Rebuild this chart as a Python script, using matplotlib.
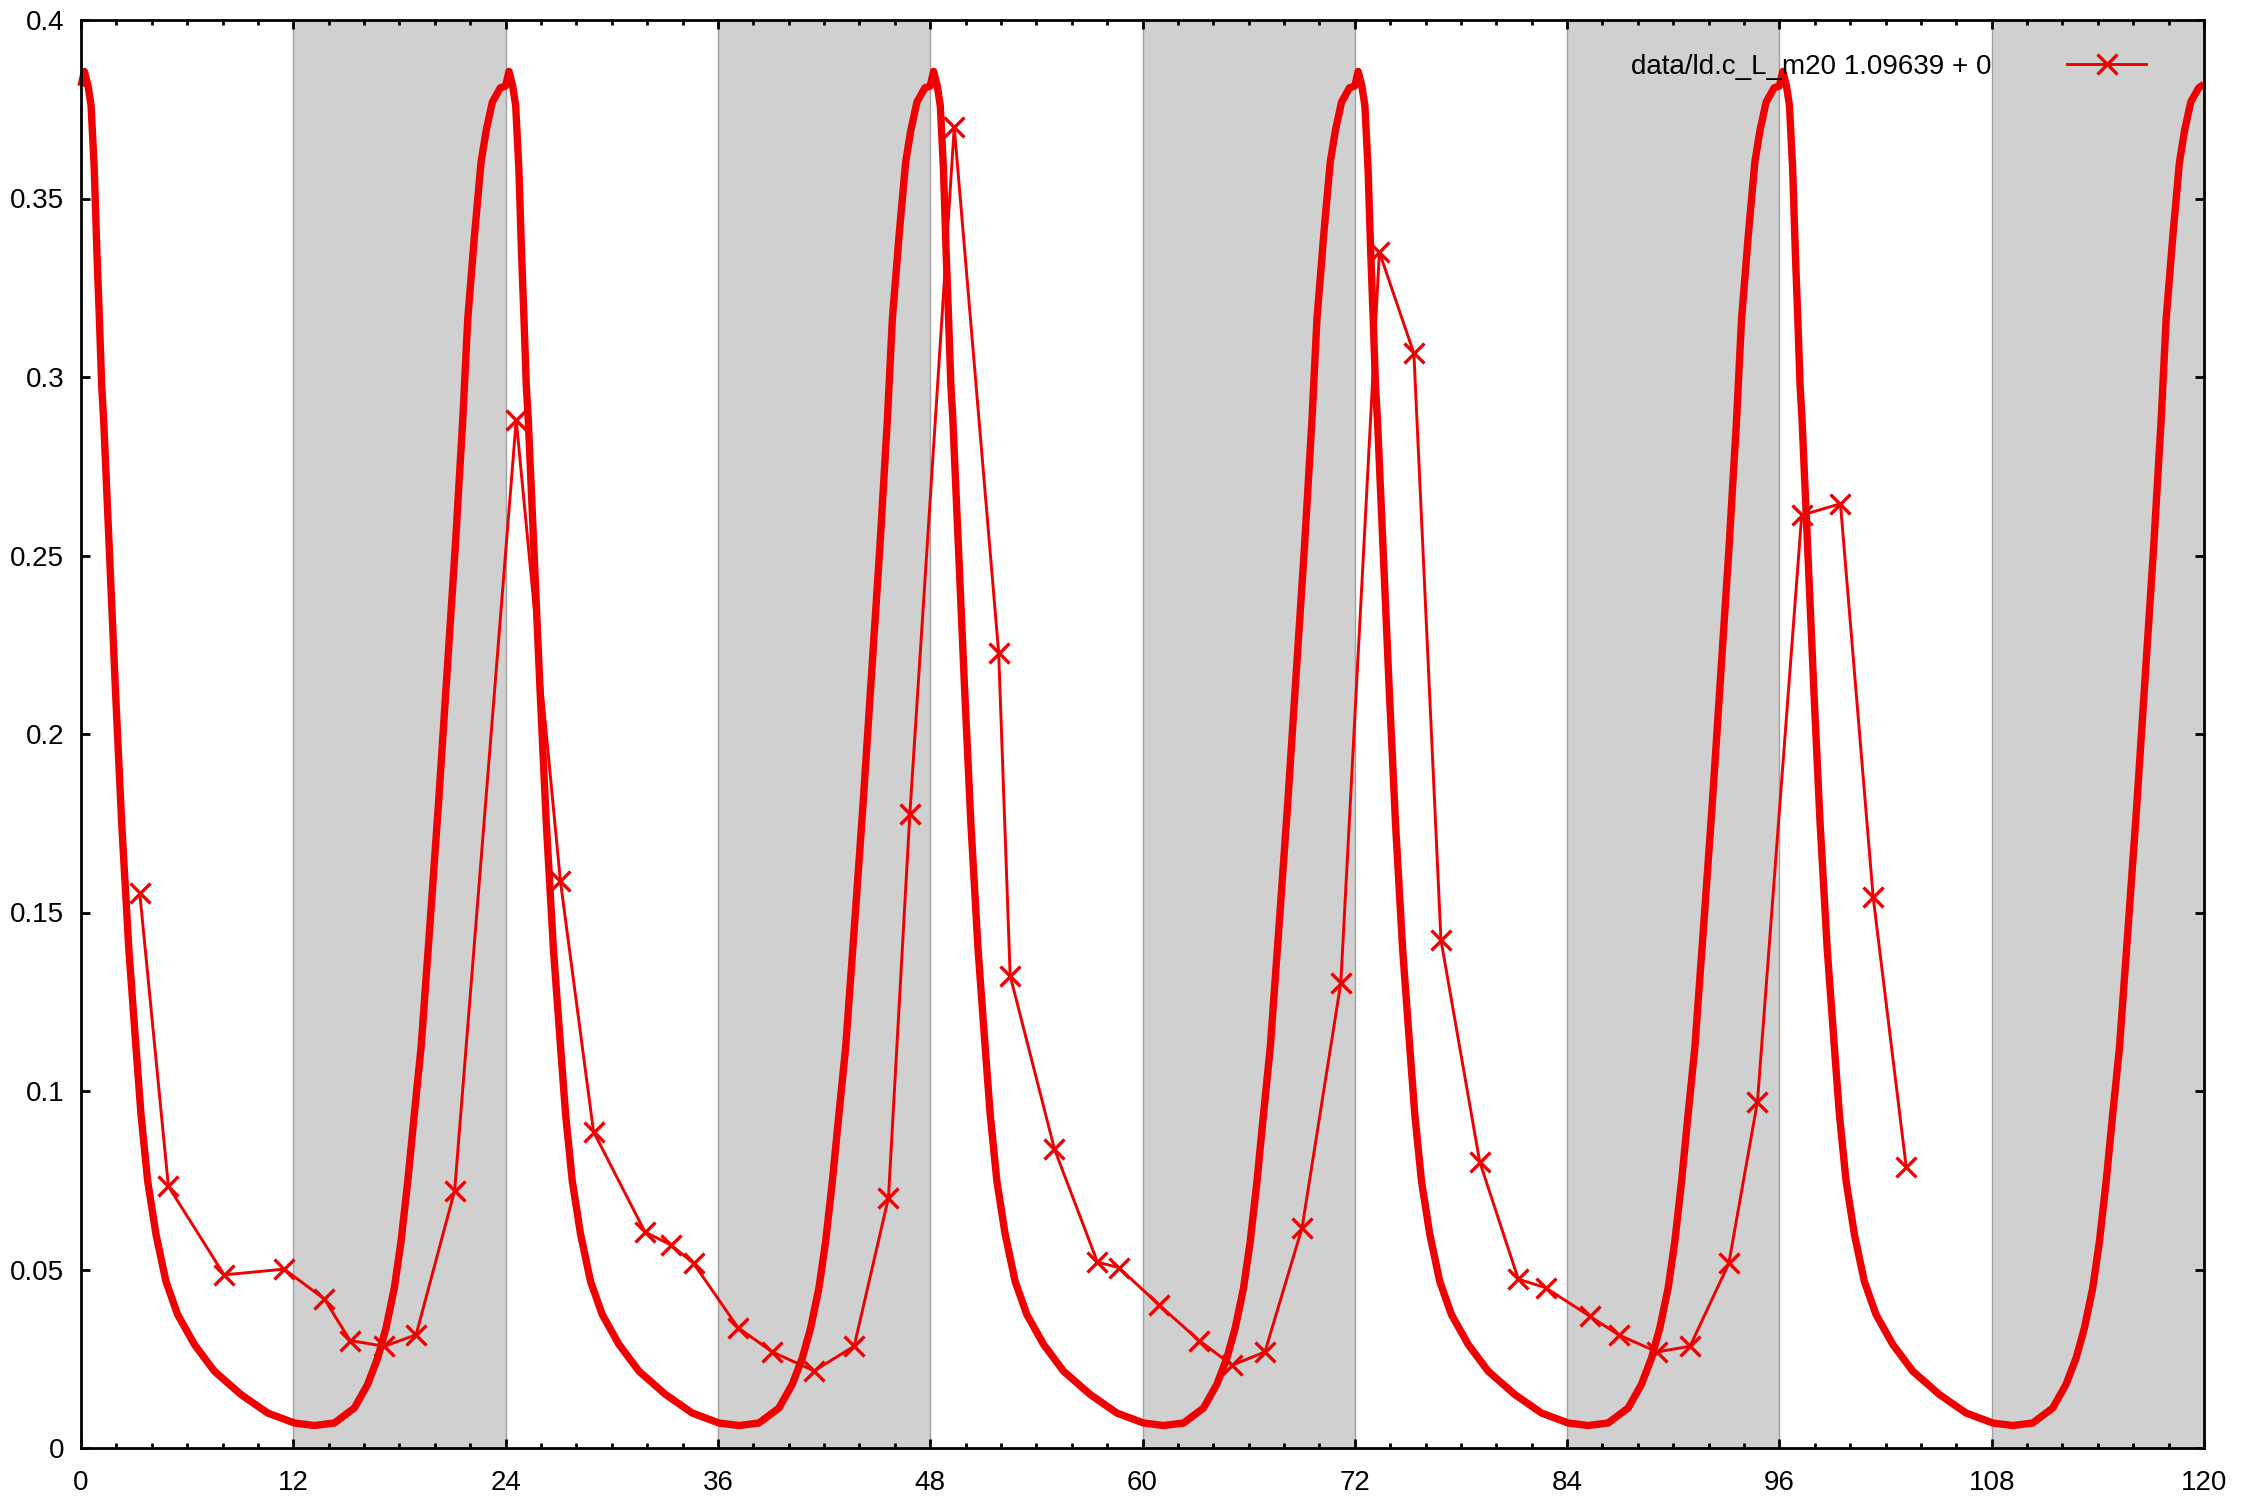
import matplotlib
matplotlib.use("Agg")
import matplotlib.pyplot as plt
import numpy as np

plt.rcParams['font.family'] = ['Liberation Sans', 'DejaVu Sans']

# ---- data ----
# one 24 h cycle of the model curve; repeats each day
cycle_t = [0.00, 0.19, 0.40, 0.57, 0.75, 0.90, 1.04, 1.17, 1.28, 1.60, 1.95, 2.30,
           2.70, 3.11, 3.39, 3.77, 4.24, 4.80, 5.46, 6.41, 7.54, 9.04, 10.55, 12.06,
           13.19, 14.32, 15.45, 16.20, 16.77, 17.24, 17.71, 18.09, 18.47, 18.84,
           19.22, 19.70, 20.20, 20.70, 21.15, 21.58, 21.86, 22.24, 22.61, 22.90,
           23.25, 23.70, 24.00]
cycle_y = [0.3815, 0.3856, 0.3815, 0.3760, 0.3582, 0.3349, 0.3162, 0.2975, 0.2881,
           0.2520, 0.2120, 0.1750, 0.1400, 0.1121, 0.0935, 0.0747, 0.0598, 0.0467,
           0.0374, 0.0290, 0.0215, 0.0150, 0.0098, 0.0070, 0.0063, 0.0070, 0.0112,
           0.0178, 0.0252, 0.0336, 0.0448, 0.0579, 0.0747, 0.0935, 0.1121, 0.1450,
           0.1800, 0.2180, 0.2520, 0.2881, 0.3162, 0.3396, 0.3601, 0.3690, 0.3770,
           0.3810, 0.3820]
days = [0, 24, 48, 72, 96]

obs_t = [3.32, 4.94, 8.09, 11.49, 13.76, 15.21, 17.15, 18.94, 21.12, 24.6, 27.1,
         28.97, 31.88, 33.34, 34.63, 37.14, 39.08, 41.43, 43.7, 45.64, 46.85,
         49.36, 51.87, 52.52, 55.02, 57.45, 58.67, 60.93, 63.2, 65.06, 66.92,
         69.02, 71.21, 73.39, 75.34, 76.87, 79.06, 81.24, 82.78, 85.29, 86.91,
         89.09, 90.95, 93.14, 94.76, 97.26, 99.45, 101.3, 103.17]
obs_y = [0.1555, 0.0733, 0.0485, 0.0501, 0.0417, 0.0301, 0.0285, 0.0317, 0.0721,
         0.288, 0.1587, 0.0886, 0.0605, 0.0569, 0.0517, 0.0337, 0.0269, 0.0216,
         0.0285, 0.0701, 0.1776, 0.370, 0.2228, 0.1323, 0.0838, 0.0521, 0.0505,
         0.0401, 0.0301, 0.0232, 0.0269, 0.0617, 0.1303, 0.335, 0.3066, 0.1423,
         0.0802, 0.0473, 0.0449, 0.0369, 0.0317, 0.0269, 0.0285, 0.0517, 0.097,
         0.2613, 0.2645, 0.1543, 0.0786]
obs_label = "data/ld.c_L_m20 1.09639 + 0"

dark_starts = [12, 36, 60, 84, 108]
dark_len = 12

x_major = [0, 12, 24, 36, 48, 60, 72, 84, 96, 108, 120]
y_major = [0, 0.05, 0.1, 0.15, 0.2, 0.25, 0.3, 0.35, 0.4]
y_labels = ["0", "0.05", "0.1", "0.15", "0.2", "0.25", "0.3", "0.35", "0.4"]

# ---- figure ----
W, H = 2243, 1503
fig = plt.figure(figsize=(W / 100, H / 100), dpi=100)
ax = fig.add_axes([81 / W, (H - 1448) / H, 2123 / W, 1428 / H])

red = '#f00000'

for s in dark_starts:
    ax.axvspan(s, s + dark_len, facecolor='#d0d0d0', edgecolor='#a0a0a0',
               linewidth=1.0, zorder=0)

# model curve: the same cycle drawn for each day
curve_t = []
curve_y = []
for i, d in enumerate(days):
    n = len(cycle_t) if i == len(days) - 1 else len(cycle_t) - 1
    for t, y in zip(cycle_t[:n], cycle_y[:n]):
        curve_t.append(d + t)
        curve_y.append(y)
ax.plot(curve_t, curve_y, color=red, linewidth=5.3, solid_joinstyle='round',
        solid_capstyle='butt', zorder=2, clip_on=False)

ax.plot(obs_t, obs_y, color=red, linewidth=2.1, marker='x', markersize=14,
        markeredgewidth=2.4, zorder=3, label=obs_label)

ax.set_xlim(0, 120)
ax.set_ylim(0, 0.4)
ax.set_xticks(x_major)
ax.set_xticklabels([str(v) for v in x_major])
ax.set_xticks(np.arange(0, 121, 2), minor=True)
ax.set_yticks(y_major)
ax.set_yticklabels(y_labels)

for sp in ax.spines.values():
    sp.set_linewidth(2.0)
    sp.set_zorder(5)

ax.tick_params(axis='both', which='both', direction='in', top=True, right=True,
               width=2.0, labelsize=20, colors='black')
ax.tick_params(axis='both', which='major', length=6.5)
ax.tick_params(axis='both', which='minor', length=3.5)
ax.tick_params(axis='x', which='major', pad=15.5)
ax.tick_params(axis='y', which='major', pad=12)

leg = ax.legend(loc='center right', bbox_to_anchor=((2146 - 81) / 2123, (1448 - 67) / 1428),
                frameon=False, markerfirst=False, fontsize=20, borderpad=0,
                borderaxespad=0, handlelength=2.84, handletextpad=2.73)

fig.savefig('out.png', dpi=100)
